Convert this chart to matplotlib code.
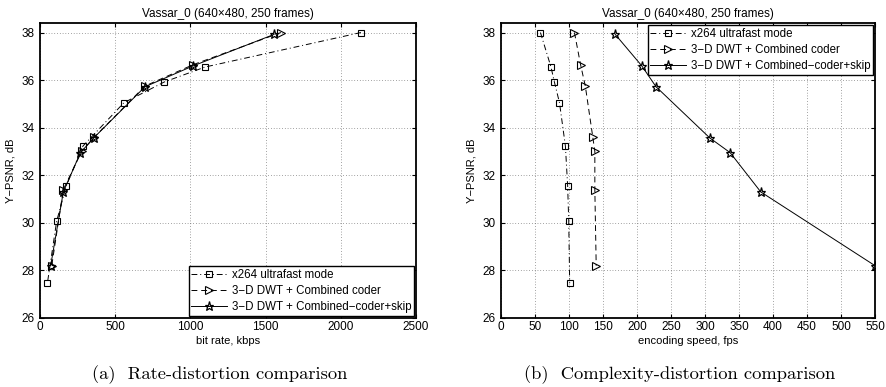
import matplotlib.pyplot as plt

plt.rcParams['font.family'] = ['Liberation Sans', 'DejaVu Sans']

# rate-distortion data (kbps, dB)
x264_rate = [2134, 1098, 826, 558, 286, 175, 111, 49]
x264_psnr = [38.0, 36.55, 35.92, 35.05, 33.23, 31.56, 30.08, 27.46]
dwt_rate = [1602, 1019, 698, 361, 277, 155, 78]
dwt_psnr = [38.0, 36.65, 35.75, 33.6, 33.0, 31.4, 28.2]
skip_rate = [1556, 1019, 698, 357, 269, 155, 71]
skip_psnr = [37.92, 36.6, 35.72, 33.57, 32.95, 31.3, 28.2]

# complexity-distortion data (fps)
x264_fps = [58, 73.5, 78.5, 86, 94.7, 98, 99.6, 101]
dwt_fps = [108, 117, 124, 135, 138, 138, 140]
skip_fps = [168, 207, 228, 307, 337, 382, 550]

labels = ['x264 ultrafast mode', '3\u2212D DWT + Combined coder',
          '3\u2212D DWT + Combined\u2212coder+skip']
title = 'Vassar_0 (640\u00d7480, 250 frames)'

fig = plt.figure(figsize=(8.87, 3.87), dpi=100)
ax1 = fig.add_axes([40/887, 69/387, 376/887, 295/387])
ax2 = fig.add_axes([501/887, 69/387, 374/887, 295/387])


def draw(ax, xs, ys):
    ax.plot(xs[0], ys[0], color='k', lw=0.7, dashes=(6, 3, 1, 3),
            marker='s', ms=5, mfc='none', mec='k', mew=0.8, label=labels[0])
    ax.plot(xs[1], ys[1], color='k', lw=0.7, dashes=(6, 4),
            marker='>', ms=5.5, mfc='none', mec='k', mew=0.8, label=labels[1])
    ax.plot(xs[2], ys[2], '-', color='k', lw=0.7,
            marker='*', ms=6.5, mfc='none', mec='k', mew=0.9, label=labels[2])
    ax.set_ylim(26, 38.4)
    ax.set_yticks(range(26, 39, 2))
    ax.grid(True, color='0.3', lw=0.5, dashes=(1, 3))
    ax.tick_params(direction='in', top=True, right=True, labelsize=8.5,
                   length=3)
    ax.tick_params(axis='x', pad=2)
    ax.tick_params(axis='y', pad=4)
    for s in ax.spines.values():
        s.set_linewidth(1.3)
    ax.set_ylabel('Y\u2212PSNR, dB', fontsize=8, labelpad=4)
    ax.set_title(title, fontsize=8.5, pad=4)


def legend(ax, loc):
    leg = ax.legend(loc=loc, fontsize=8.3, fancybox=False, edgecolor='k',
                    borderaxespad=0.15, handlelength=3.1, handletextpad=0.4,
                    borderpad=0.25, labelspacing=0.35, framealpha=1)
    leg.get_frame().set_linewidth(1.0)


draw(ax1, [x264_rate, dwt_rate, skip_rate], [x264_psnr, dwt_psnr, skip_psnr])
ax1.set_xlim(0, 2500)
ax1.set_xticks(range(0, 2501, 500))
ax1.set_xlabel('bit rate, kbps', fontsize=8, labelpad=2)
legend(ax1, 'lower right')

draw(ax2, [x264_fps, dwt_fps, skip_fps], [x264_psnr, dwt_psnr, skip_psnr])
ax2.set_xlim(0, 550)
ax2.set_xticks(range(0, 551, 50))
ax2.set_xlabel('encoding speed, fps', fontsize=8, labelpad=2)
legend(ax2, 'upper right')

fig.text(220/887, 1 - 375/387, '(a)  Rate-distortion comparison',
         family='cmr10', fontsize=13.3, ha='center', va='center')
fig.text(680/887, 1 - 375/387, '(b)  Complexity-distortion comparison',
         family='cmr10', fontsize=13.3, ha='center', va='center')

fig.savefig('out.png', dpi=100)
